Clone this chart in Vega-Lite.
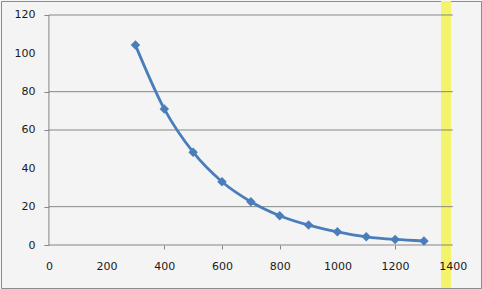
{
  "$schema": "https://vega.github.io/schema/vega-lite/v6.json",
  "width": 480,
  "height": 287,
  "autosize": {"type": "none"},
  "padding": {"left": 1, "top": 1, "right": 1, "bottom": 1},
  "background": "#f4f4f4",
  "config": {
    "view": {"stroke": "#8c8c8c", "strokeWidth": 1, "fill": "#f4f4f4"}
  },
  "datasets": {
    "curve": [
      {"x": 300, "y": 104.3},
      {"x": 400, "y": 71.0},
      {"x": 500, "y": 48.4},
      {"x": 600, "y": 33.0},
      {"x": 700, "y": 22.6},
      {"x": 800, "y": 15.3},
      {"x": 900, "y": 10.4},
      {"x": 1000, "y": 6.9},
      {"x": 1100, "y": 4.3},
      {"x": 1200, "y": 2.9},
      {"x": 1300, "y": 2.1}
    ],
    "grid": [{"y": 0}, {"y": 20}, {"y": 60}, {"y": 80}, {"y": 120}]
  },
  "layer": [
    {
      "data": {"values": [{"from": 1359, "to": 1394}]},
      "mark": {"type": "rect", "color": "#f4f46c"},
      "encoding": {
        "x": {
          "field": "from",
          "type": "quantitative",
          "scale": {"domain": [-166, 1497.7], "nice": false, "zero": false},
          "axis": {
            "orient": "bottom",
            "offset": -43,
            "values": [0, 200, 400, 600, 800, 1000, 1200, 1400],
            "format": "d",
            "domain": false,
            "grid": false,
            "ticks": true,
            "tickSize": 4,
            "tickColor": "#868686",
            "tickOpacity": {"condition": {"test": "datum.value == 0 || datum.value == 200 || datum.value == 1000 || datum.value == 1400", "value": 0}, "value": 1},
            "labelPadding": 11,
            "labelFont": "DejaVu Sans",
            "labelFontSize": 11,
            "labelColor": "#1a1a1a",
            "labelOverlap": false,
            "labelFlush": false,
            "title": null,
            "zindex": 1
          }
        },
        "x2": {"field": "to"}
      }
    },
    {
      "data": {"name": "grid"},
      "mark": {"type": "rule", "color": "#868686", "strokeWidth": 1},
      "encoding": {
        "y": {
          "field": "y",
          "type": "quantitative",
          "scale": {"domain": [-22.43, 127.3], "nice": false, "zero": false},
          "axis": {
            "orient": "left",
            "offset": -47.9,
            "values": [0, 20, 40, 60, 80, 100, 120],
            "format": "d",
            "domain": false,
            "grid": false,
            "ticks": true,
            "tickSize": 5,
            "tickColor": "#868686",
            "tickOpacity": {"condition": {"test": "datum.value == 100 || datum.value == 40", "value": 0}, "value": 1},
            "labelPadding": 9,
            "labelFont": "DejaVu Sans",
            "labelFontSize": 11,
            "labelColor": "#1a1a1a",
            "labelOverlap": false,
            "labelFlush": false,
            "title": null,
            "zindex": 1
          }
        },
        "x": {"datum": 0, "type": "quantitative", "scale": {"domain": [-166, 1497.7], "nice": false, "zero": false}},
        "x2": {"datum": 1400}
      }
    },
    {
      "data": {"values": [{"x": 0}]},
      "mark": {"type": "rule", "color": "#868686", "strokeWidth": 1},
      "encoding": {
        "x": {"field": "x", "type": "quantitative", "scale": {"domain": [-166, 1497.7], "nice": false, "zero": false}},
        "y": {"datum": 0, "type": "quantitative", "scale": {"domain": [-22.43, 127.3], "nice": false, "zero": false}},
        "y2": {"datum": 120}
      }
    },
    {
      "data": {"name": "curve"},
      "mark": {
        "type": "line",
        "interpolate": "monotone",
        "color": "#4a7ebb",
        "strokeWidth": 2.8,
        "point": {"shape": "diamond", "size": 90, "filled": true, "color": "#4a7ebb", "opacity": 1}
      },
      "encoding": {
        "x": {"field": "x", "type": "quantitative", "scale": {"domain": [-166, 1497.7], "nice": false, "zero": false}},
        "y": {"field": "y", "type": "quantitative", "scale": {"domain": [-22.43, 127.3], "nice": false, "zero": false}}
      }
    }
  ]
}
